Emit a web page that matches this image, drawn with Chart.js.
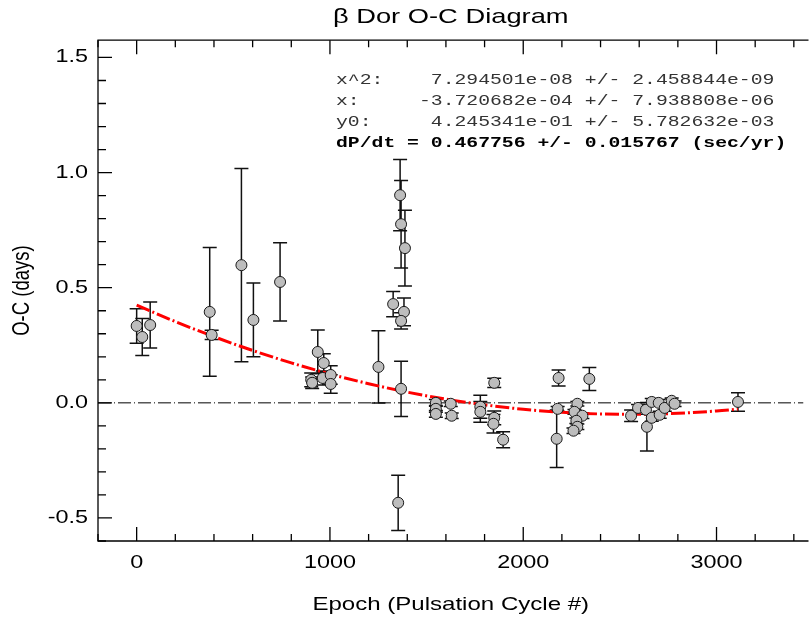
<!DOCTYPE html>
<html>
<head>
<meta charset="utf-8">
<script src="https://cdn.jsdelivr.net/npm/chart.js@4.4.1/dist/chart.umd.min.js"></script>
<style>
  html, body { margin: 0; padding: 0; background: #fff; }
  #wrap { width: 810px; height: 621px; }
</style>
</head>
<body>
<div id="wrap"><canvas id="c" width="810" height="621"></canvas></div>
<script>
// ---- data ----
const epochs = [0, 29, 70, 378, 388, 542, 604, 742,
  937, 968, 903, 908, 963, 1004, 1004,
  1251, 1327, 1363, 1368, 1388, 1383, 1368, 1368, 1353,
  1548, 1548, 1548, 1625, 1630, 1778, 1778, 1850, 1850, 1846, 1896,
  2183, 2178, 2173, 2342, 2280, 2265, 2306, 2275, 2280, 2260,
  2558, 2594, 2635, 2640, 2665, 2665, 2701, 2706, 2732, 2768, 2783, 3111];
const ocValues = [0.334, 0.286, 0.338, 0.395, 0.295, 0.598, 0.360, 0.525,
  0.221, 0.173, 0.100, 0.087, 0.108, 0.121, 0.082,
  0.156, 0.429, 0.902, 0.776, 0.672, 0.395, 0.356, 0.061, -0.434,
  0.000, -0.026, -0.048, -0.004, -0.056, -0.017, -0.039, 0.087, -0.065, -0.091, -0.160,
  0.108, -0.026, -0.156, 0.104, -0.004, -0.039, -0.056, -0.078, -0.104, -0.121,
  -0.056, -0.022, -0.030, -0.104, 0.004, -0.065, 0.000, -0.052, -0.022, 0.009, -0.004, 0.004];
const ocErrors = [0.075, 0.080, 0.100, 0.280, 0.020, 0.420, 0.160, 0.170,
  0.095, 0.040, 0.030, 0.025, 0.030, 0.040, 0.040,
  0.157, 0.055, 0.155, 0.190, 0.165, 0.060, 0.035, 0.120, 0.120,
  0.015, 0.015, 0.015, 0.012, 0.012, 0.050, 0.045, 0.020, 0.030, 0.040, 0.035,
  0.035, 0.010, 0.125, 0.050, 0.010, 0.010, 0.012, 0.012, 0.012, 0.012,
  0.025, 0.015, 0.020, 0.105, 0.015, 0.015, 0.015, 0.015, 0.015, 0.012, 0.012, 0.040];
// quadratic fit curve, sampled along the drawn red line
const fitEpochs = [0, 200, 400, 600, 800, 1000, 1200, 1400, 1600, 1800, 2000, 2200, 2400, 2600, 2800, 3000, 3111];
const fitValues = [0.4245, 0.3530, 0.2874, 0.2276, 0.1736, 0.1254, 0.0831, 0.0466, 0.0160,
  -0.0088, -0.0278, -0.0410, -0.0483, -0.0497, -0.0454, -0.0352, -0.0270];
const zeroLineEpochs = [-200, 3450];
const zeroLineValues = [0, 0];
const xTickValues = [0, 1000, 2000, 3000];
const yTickValues = [-0.5, 0.0, 0.5, 1.0, 1.5];
const fitText = [
  'x^2:    7.294501e-08 +/- 2.458844e-09',
  'x:     -3.720682e-04 +/- 7.938808e-06',
  'y0:     4.245341e-01 +/- 5.782632e-03'
];
const resultText = 'dP/dt = 0.467756 +/- 0.015767 (sec/yr)';

// ---- horizontal text stretch (reference text is widened) ----
const SX = 1.3;
function patchCtx(ctx) {
  if (ctx.__patched) return;
  const orig = ctx.fillText.bind(ctx);
  ctx.fillText = function (text, x, y, maxWidth) {
    const m = ctx.getTransform();
    const px = m.a * x + m.c * y + m.e;
    ctx.save();
    ctx.setTransform(new DOMMatrix([SX, 0, 0, 1, px * (1 - SX), 0]).multiply(m));
    if (maxWidth !== undefined && maxWidth !== null) orig(text, x, y, maxWidth); else orig(text, x, y);
    ctx.restore();
  };
  ctx.__patched = true;
}

const framePlugin = {
  id: 'frame',
  beforeDraw(chart) { patchCtx(chart.ctx); },
  beforeDatasetsDraw(chart) {
    const ctx = chart.ctx, a = chart.chartArea;
    const xs = chart.scales.x, ys = chart.scales.y;
    ctx.save();
    ctx.strokeStyle = '#000';
    ctx.lineWidth = 1.3;
    // frame: left, top, bottom
    ctx.beginPath();
    ctx.moveTo(a.right + 5, a.top); ctx.lineTo(a.left, a.top);
    ctx.lineTo(a.left, a.bottom); ctx.lineTo(a.right + 5, a.bottom);
    ctx.stroke();
    // x ticks (bottom & top, inward)
    ctx.beginPath();
    for (let v = -200; v <= xs.max; v += 200) {
      const px = xs.getPixelForValue(v);
      const len = (v % 1000 === 0) ? 14 : 7;
      ctx.moveTo(px, a.bottom); ctx.lineTo(px, a.bottom - len);
      ctx.moveTo(px, a.top); ctx.lineTo(px, a.top + len);
    }
    // y ticks (left, inward)
    for (let i = -6; i <= 15; i++) {
      const v = i / 10;
      const py = ys.getPixelForValue(v);
      const len = (i % 5 === 0) ? 14 : 8;
      ctx.moveTo(a.left, py); ctx.lineTo(a.left + len, py);
    }
    ctx.stroke();
    // error bars
    ctx.lineWidth = 1.5;
    ctx.strokeStyle = '#111';
    ctx.beginPath();
    for (let i = 0; i < epochs.length; i++) {
      const px = xs.getPixelForValue(epochs[i]);
      const pt = ys.getPixelForValue(ocValues[i] + ocErrors[i]);
      const pb = ys.getPixelForValue(ocValues[i] - ocErrors[i]);
      ctx.moveTo(px, pt); ctx.lineTo(px, pb);
      ctx.moveTo(px - 7, pt); ctx.lineTo(px + 7, pt);
      ctx.moveTo(px - 7, pb); ctx.lineTo(px + 7, pb);
    }
    ctx.stroke();
    ctx.restore();
  },
  afterDraw(chart) {
    const ctx = chart.ctx;
    ctx.save();
    ctx.textAlign = 'left';
    ctx.textBaseline = 'middle';
    ctx.fillStyle = '#333';
    ctx.font = '15.2px "Liberation Mono", monospace';
    const ys0 = 80, dy = 21;
    fitText.forEach((t, i) => ctx.fillText(t, 336, ys0 + i * dy));
    ctx.fillStyle = '#000';
    ctx.font = 'bold 15.2px "Liberation Mono", monospace';
    ctx.fillText(resultText, 336, ys0 + 3 * dy);
    ctx.restore();
  }
};

new Chart(document.getElementById('c'), {
  data: {
    datasets: [
      {
        type: 'scatter',
        label: 'O-C',
        data: epochs.map((e, i) => ({ x: e, y: ocValues[i] })),
        pointRadius: 5.5,
        pointHoverRadius: 5.5,
        backgroundColor: '#bdbdbd',
        borderColor: '#1a1a1a',
        borderWidth: 1,
        order: 0
      },
      {
        type: 'line',
        label: 'fit',
        data: fitEpochs.map((e, i) => ({ x: e, y: fitValues[i] })),
        borderColor: '#ff0000',
        borderWidth: 3,
        borderDash: [14, 3, 2, 3],
        pointRadius: 0,
        cubicInterpolationMode: 'monotone',
        fill: false,
        order: 1
      },
      {
        type: 'line',
        label: 'zero',
        data: zeroLineEpochs.map((e, i) => ({ x: e, y: zeroLineValues[i] })),
        borderColor: '#000',
        borderWidth: 1,
        borderDash: [13, 3, 1, 3],
        pointRadius: 0,
        fill: false,
        order: 2
      }
    ]
  },
  options: {
    responsive: false,
    animation: false,
    events: [],
    layout: { padding: { left: 0, right: 0, top: 0, bottom: 0 } },
    plugins: {
      legend: { display: false },
      tooltip: { enabled: false },
      title: {
        display: true,
        text: 'β Dor O-C Diagram',
        fullSize: false,
        color: '#000',
        font: { family: '"Liberation Sans", Arial, sans-serif', size: 21, weight: 'normal' },
        padding: { top: 5, bottom: 10 }
      }
    },
    scales: {
      x: {
        type: 'linear',
        position: 'bottom',
        min: -200,
        max: 3450,
        grid: { display: false, drawTicks: false },
        border: { display: false },
        afterBuildTicks(scale) { scale.ticks = xTickValues.map(v => ({ value: v })); },
        afterFit(scale) { scale.height = 80; },
        ticks: {
          color: '#000',
          padding: 11,
          maxRotation: 0,
          autoSkip: false,
          font: { family: '"Liberation Sans", Arial, sans-serif', size: 18 },
          callback: v => String(v)
        },
        title: {
          display: true,
          text: 'Epoch (Pulsation Cycle #)',
          color: '#000',
          font: { family: '"Liberation Sans", Arial, sans-serif', size: 18.5 },
          padding: { top: 0, bottom: 5 }
        }
      },
      y: {
        type: 'linear',
        position: 'left',
        min: -0.6,
        max: 1.575,
        grid: { display: false, drawTicks: false },
        border: { display: false },
        afterBuildTicks(scale) { scale.ticks = yTickValues.map(v => ({ value: v })); },
        afterFit(scale) { scale.width = 98; },
        ticks: {
          color: '#000',
          padding: 10,
          autoSkip: false,
          font: { family: '"Liberation Sans", Arial, sans-serif', size: 18 },
          callback: v => Number(v).toFixed(1)
        },
        title: {
          display: true,
          text: 'O-C (days)',
          color: '#000',
          font: { family: '"Liberation Sans", Arial, sans-serif', size: 18.5 },
          padding: { top: 11, bottom: 0 }
        }
      }
    }
  },
  plugins: [framePlugin]
});
</script>
</body>
</html>
